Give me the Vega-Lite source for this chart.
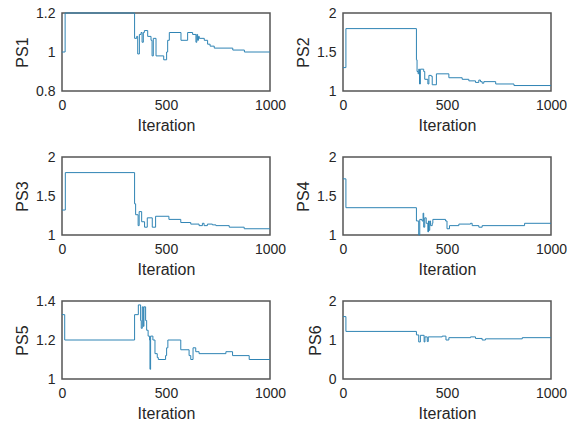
{
  "$schema": "https://vega.github.io/schema/vega-lite/v6.json",
  "padding": {"left": 13, "top": 5, "right": 0, "bottom": 0},
  "background": "white",
  "datasets": {
    "d": [
      {"panel":"PS1","iter":0,"value":1.0},{"panel":"PS1","iter":15,"value":1.2},{"panel":"PS1","iter":349,"value":1.07},{"panel":"PS1","iter":359,"value":1.08},{"panel":"PS1","iter":364,"value":0.99},{"panel":"PS1","iter":372,"value":1.09},{"panel":"PS1","iter":380,"value":1.1},{"panel":"PS1","iter":385,"value":1.05},{"panel":"PS1","iter":391,"value":1.1},{"panel":"PS1","iter":396,"value":1.11},{"panel":"PS1","iter":412,"value":1.08},{"panel":"PS1","iter":428,"value":1.06},{"panel":"PS1","iter":433,"value":0.98},{"panel":"PS1","iter":439,"value":1.07},{"panel":"PS1","iter":452,"value":0.98},{"panel":"PS1","iter":489,"value":0.96},{"panel":"PS1","iter":503,"value":1.0},{"panel":"PS1","iter":508,"value":1.06},{"panel":"PS1","iter":516,"value":1.1},{"panel":"PS1","iter":572,"value":1.06},{"panel":"PS1","iter":604,"value":1.1},{"panel":"PS1","iter":628,"value":1.09},{"panel":"PS1","iter":644,"value":1.05},{"panel":"PS1","iter":648,"value":1.09},{"panel":"PS1","iter":652,"value":1.06},{"panel":"PS1","iter":656,"value":1.08},{"panel":"PS1","iter":660,"value":1.07},{"panel":"PS1","iter":684,"value":1.06},{"panel":"PS1","iter":700,"value":1.04},{"panel":"PS1","iter":712,"value":1.03},{"panel":"PS1","iter":732,"value":1.02},{"panel":"PS1","iter":821,"value":1.01},{"panel":"PS1","iter":877,"value":1.0},{"panel":"PS1","iter":1000,"value":1.0},
      {"panel":"PS2","iter":0,"value":1.3},{"panel":"PS2","iter":14,"value":1.8},{"panel":"PS2","iter":353,"value":1.4},{"panel":"PS2","iter":356,"value":1.25},{"panel":"PS2","iter":361,"value":1.22},{"panel":"PS2","iter":364,"value":1.28},{"panel":"PS2","iter":368,"value":1.09},{"panel":"PS2","iter":372,"value":1.28},{"panel":"PS2","iter":388,"value":1.25},{"panel":"PS2","iter":393,"value":1.15},{"panel":"PS2","iter":408,"value":1.09},{"panel":"PS2","iter":413,"value":1.2},{"panel":"PS2","iter":424,"value":1.19},{"panel":"PS2","iter":429,"value":1.08},{"panel":"PS2","iter":449,"value":1.22},{"panel":"PS2","iter":509,"value":1.17},{"panel":"PS2","iter":573,"value":1.15},{"panel":"PS2","iter":605,"value":1.13},{"panel":"PS2","iter":637,"value":1.11},{"panel":"PS2","iter":653,"value":1.14},{"panel":"PS2","iter":661,"value":1.12},{"panel":"PS2","iter":669,"value":1.1},{"panel":"PS2","iter":677,"value":1.12},{"panel":"PS2","iter":734,"value":1.09},{"panel":"PS2","iter":822,"value":1.07},{"panel":"PS2","iter":1000,"value":1.07},
      {"panel":"PS3","iter":0,"value":1.32},{"panel":"PS3","iter":16,"value":1.8},{"panel":"PS3","iter":349,"value":1.4},{"panel":"PS3","iter":354,"value":1.26},{"panel":"PS3","iter":366,"value":1.12},{"panel":"PS3","iter":371,"value":1.3},{"panel":"PS3","iter":383,"value":1.17},{"panel":"PS3","iter":397,"value":1.1},{"panel":"PS3","iter":410,"value":1.22},{"panel":"PS3","iter":434,"value":1.1},{"panel":"PS3","iter":450,"value":1.24},{"panel":"PS3","iter":514,"value":1.2},{"panel":"PS3","iter":571,"value":1.16},{"panel":"PS3","iter":619,"value":1.14},{"panel":"PS3","iter":659,"value":1.12},{"panel":"PS3","iter":675,"value":1.15},{"panel":"PS3","iter":683,"value":1.12},{"panel":"PS3","iter":699,"value":1.14},{"panel":"PS3","iter":723,"value":1.13},{"panel":"PS3","iter":740,"value":1.12},{"panel":"PS3","iter":804,"value":1.1},{"panel":"PS3","iter":876,"value":1.08},{"panel":"PS3","iter":1000,"value":1.08},
      {"panel":"PS4","iter":0,"value":1.72},{"panel":"PS4","iter":14,"value":1.35},{"panel":"PS4","iter":353,"value":1.18},{"panel":"PS4","iter":364,"value":1.0},{"panel":"PS4","iter":369,"value":1.2},{"panel":"PS4","iter":380,"value":1.18},{"panel":"PS4","iter":385,"value":1.28},{"panel":"PS4","iter":388,"value":1.1},{"panel":"PS4","iter":393,"value":1.22},{"panel":"PS4","iter":400,"value":1.15},{"panel":"PS4","iter":408,"value":1.04},{"panel":"PS4","iter":411,"value":1.18},{"panel":"PS4","iter":413,"value":1.06},{"panel":"PS4","iter":417,"value":1.18},{"panel":"PS4","iter":421,"value":1.12},{"panel":"PS4","iter":429,"value":1.15},{"panel":"PS4","iter":432,"value":1.2},{"panel":"PS4","iter":493,"value":1.18},{"panel":"PS4","iter":500,"value":1.08},{"panel":"PS4","iter":512,"value":1.12},{"panel":"PS4","iter":557,"value":1.14},{"panel":"PS4","iter":613,"value":1.15},{"panel":"PS4","iter":621,"value":1.12},{"panel":"PS4","iter":653,"value":1.1},{"panel":"PS4","iter":669,"value":1.12},{"panel":"PS4","iter":873,"value":1.15},{"panel":"PS4","iter":1000,"value":1.15},
      {"panel":"PS5","iter":0,"value":1.33},{"panel":"PS5","iter":13,"value":1.2},{"panel":"PS5","iter":349,"value":1.33},{"panel":"PS5","iter":367,"value":1.38},{"panel":"PS5","iter":378,"value":1.3},{"panel":"PS5","iter":381,"value":1.26},{"panel":"PS5","iter":386,"value":1.37},{"panel":"PS5","iter":391,"value":1.27},{"panel":"PS5","iter":394,"value":1.37},{"panel":"PS5","iter":402,"value":1.3},{"panel":"PS5","iter":407,"value":1.25},{"panel":"PS5","iter":414,"value":1.22},{"panel":"PS5","iter":421,"value":1.2},{"panel":"PS5","iter":423,"value":1.05},{"panel":"PS5","iter":426,"value":1.22},{"panel":"PS5","iter":437,"value":1.2},{"panel":"PS5","iter":447,"value":1.13},{"panel":"PS5","iter":458,"value":1.11},{"panel":"PS5","iter":463,"value":1.1},{"panel":"PS5","iter":498,"value":1.12},{"panel":"PS5","iter":503,"value":1.16},{"panel":"PS5","iter":509,"value":1.2},{"panel":"PS5","iter":571,"value":1.15},{"panel":"PS5","iter":611,"value":1.12},{"panel":"PS5","iter":619,"value":1.1},{"panel":"PS5","iter":630,"value":1.16},{"panel":"PS5","iter":643,"value":1.14},{"panel":"PS5","iter":659,"value":1.13},{"panel":"PS5","iter":788,"value":1.14},{"panel":"PS5","iter":820,"value":1.12},{"panel":"PS5","iter":900,"value":1.1},{"panel":"PS5","iter":1000,"value":1.1},
      {"panel":"PS6","iter":0,"value":1.6},{"panel":"PS6","iter":14,"value":1.22},{"panel":"PS6","iter":353,"value":1.13},{"panel":"PS6","iter":364,"value":0.95},{"panel":"PS6","iter":372,"value":1.12},{"panel":"PS6","iter":390,"value":0.95},{"panel":"PS6","iter":394,"value":1.08},{"panel":"PS6","iter":405,"value":0.96},{"panel":"PS6","iter":410,"value":1.08},{"panel":"PS6","iter":477,"value":1.1},{"panel":"PS6","iter":495,"value":1.0},{"panel":"PS6","iter":509,"value":1.06},{"panel":"PS6","iter":613,"value":1.08},{"panel":"PS6","iter":637,"value":1.04},{"panel":"PS6","iter":669,"value":1.0},{"panel":"PS6","iter":685,"value":1.03},{"panel":"PS6","iter":862,"value":1.06},{"panel":"PS6","iter":1000,"value":1.06}
    ]
  },
  "data": {"name": "d"},
  "columns": 2,
  "spacing": {"column": 73, "row": 66},
  "bounds": "flush",
  "concat": [
    {"width":208,"height":78,"transform":[{"filter":"datum.panel == 'PS1'"}],
     "mark":{"type":"line","interpolate":"step-after","color":"#2f84b4","strokeWidth":1},
     "encoding":{"x":{"field":"iter","type":"quantitative","scale":{"domain":[0,1000]},"axis":{"values":[0,500,1000],"title":"Iteration"}},
                 "y":{"field":"value","type":"quantitative","scale":{"domain":[0.8,1.2],"zero":false},"axis":{"values":[0.8,1,1.2],"title":"PS1"}}}},
    {"width":208,"height":78,"transform":[{"filter":"datum.panel == 'PS2'"}],
     "mark":{"type":"line","interpolate":"step-after","color":"#2f84b4","strokeWidth":1},
     "encoding":{"x":{"field":"iter","type":"quantitative","scale":{"domain":[0,1000]},"axis":{"values":[0,500,1000],"title":"Iteration"}},
                 "y":{"field":"value","type":"quantitative","scale":{"domain":[1,2],"zero":false},"axis":{"values":[1,1.5,2],"title":"PS2"}}}},
    {"width":208,"height":78,"transform":[{"filter":"datum.panel == 'PS3'"}],
     "mark":{"type":"line","interpolate":"step-after","color":"#2f84b4","strokeWidth":1},
     "encoding":{"x":{"field":"iter","type":"quantitative","scale":{"domain":[0,1000]},"axis":{"values":[0,500,1000],"title":"Iteration"}},
                 "y":{"field":"value","type":"quantitative","scale":{"domain":[1,2],"zero":false},"axis":{"values":[1,1.5,2],"title":"PS3"}}}},
    {"width":208,"height":78,"transform":[{"filter":"datum.panel == 'PS4'"}],
     "mark":{"type":"line","interpolate":"step-after","color":"#2f84b4","strokeWidth":1},
     "encoding":{"x":{"field":"iter","type":"quantitative","scale":{"domain":[0,1000]},"axis":{"values":[0,500,1000],"title":"Iteration"}},
                 "y":{"field":"value","type":"quantitative","scale":{"domain":[1,2],"zero":false},"axis":{"values":[1,1.5,2],"title":"PS4"}}}},
    {"width":208,"height":78,"transform":[{"filter":"datum.panel == 'PS5'"}],
     "mark":{"type":"line","interpolate":"step-after","color":"#2f84b4","strokeWidth":1},
     "encoding":{"x":{"field":"iter","type":"quantitative","scale":{"domain":[0,1000]},"axis":{"values":[0,500,1000],"title":"Iteration"}},
                 "y":{"field":"value","type":"quantitative","scale":{"domain":[1,1.4],"zero":false},"axis":{"values":[1,1.2,1.4],"title":"PS5"}}}},
    {"width":208,"height":78,"transform":[{"filter":"datum.panel == 'PS6'"}],
     "mark":{"type":"line","interpolate":"step-after","color":"#2f84b4","strokeWidth":1},
     "encoding":{"x":{"field":"iter","type":"quantitative","scale":{"domain":[0,1000]},"axis":{"values":[0,500,1000],"title":"Iteration"}},
                 "y":{"field":"value","type":"quantitative","scale":{"domain":[0,2],"zero":false},"axis":{"values":[0,1,2],"title":"PS6"}}}}
  ],
  "config": {
    "view": {"stroke": "#555555", "strokeWidth": 1.5},
    "axis": {
      "grid": false, "ticks": false, "domain": false,
      "labelFont": "Liberation Sans", "labelFontSize": 14, "labelColor": "#262626",
      "labelPadding": 7, "labelFlush": false, "labelOverlap": false, "format": "~r",
      "titleFont": "Liberation Sans", "titleFontSize": 16, "titleFontWeight": "normal", "titleColor": "#262626",
      "titlePadding": 5
    }
  }
}
